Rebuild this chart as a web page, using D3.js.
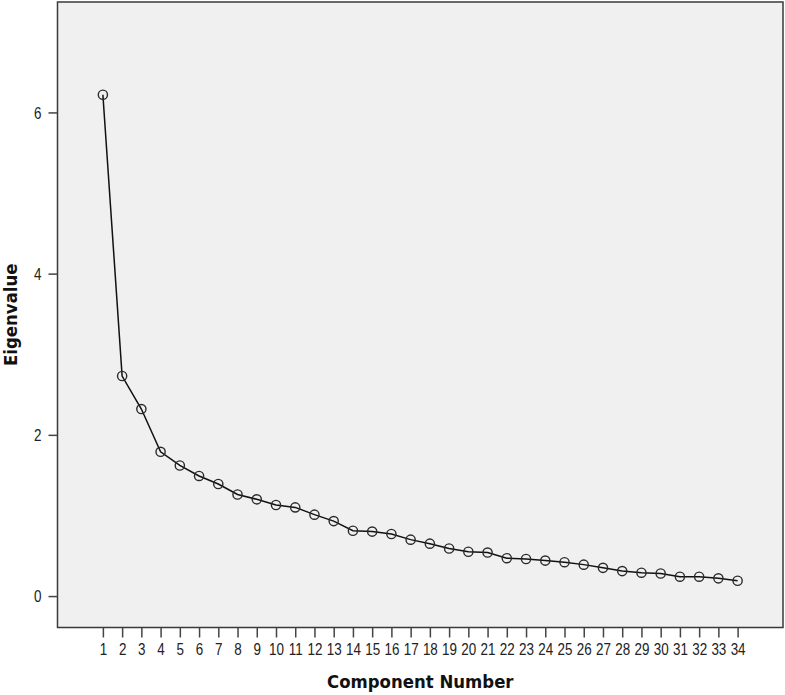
<!DOCTYPE html>
<html lang="en">
<head>
	<meta charset="utf-8">
	<title>Scree Plot</title>
	<script type="text/javascript" src="https://cdn.jsdelivr.net/npm/d3@7"></script>
	<style>
		body { margin: 0; background: white; }
		.tick text { font-family: "Liberation Sans", Arial, sans-serif; font-size: 16px; fill: #222; }
		.axis-title { font-family: "DejaVu Sans", Verdana, sans-serif; font-weight: bold; font-size: 18px; fill: #111; }
	</style>
</head>
<body>
<div id="chart"></div>
<script type="text/javascript">

// component numbers and their eigenvalues
var components = d3.range(1, 35)
var eigenvalues = [6.22, 2.73, 2.32, 1.79, 1.62, 1.49, 1.39, 1.26, 1.20, 1.13,
	1.10, 1.01, 0.93, 0.81, 0.80, 0.77, 0.70, 0.65, 0.59, 0.55,
	0.54, 0.47, 0.46, 0.44, 0.42, 0.39, 0.35, 0.31, 0.29, 0.28,
	0.24, 0.24, 0.22, 0.19]
var yTicks = [0, 2, 4, 6]

var width = 785, height = 695
var box = {left: 57.5, right: 783, top: 2, bottom: 627.5}
var narrow = 0.84  // labels in the original are a condensed face
var titleSquash = 0.92

var svg = d3.select("#chart").append("svg")
	.attr("width", width)
	.attr("height", height)

var x = d3.scaleLinear().domain([-1.36, 36.36]).range([box.left, box.right])
var y = d3.scaleLinear().domain([-0.39, 7.37]).range([box.bottom, box.top])

//plot area
svg.append("rect")
	.attr("x", box.left).attr("y", box.top)
	.attr("width", box.right - box.left)
	.attr("height", box.bottom - box.top)
	.style("fill", "#f0f0f0")
	.style("stroke", "#3a3a3a")
	.style("stroke-width", 1.5)

var xAxis = svg.append("g")
	.attr("transform", "translate(0," + box.bottom + ")")
	.call(d3.axisBottom(x).tickValues(components).tickSize(10).tickPadding(6).tickSizeOuter(0))
xAxis.select(".domain").remove()
xAxis.selectAll(".tick line").style("stroke", "#444").style("stroke-width", 1.5)
xAxis.selectAll(".tick text").attr("transform", "scale(" + narrow + ",1)")

var yAxis = svg.append("g")
	.attr("transform", "translate(" + box.left + ",0)")
	.call(d3.axisLeft(y).tickValues(yTicks).tickSize(9).tickPadding(7).tickSizeOuter(0))
yAxis.select(".domain").remove()
yAxis.selectAll(".tick line").style("stroke", "#444").style("stroke-width", 1.5)
yAxis.selectAll(".tick text")
	.attr("dy", "0.36em")
	.attr("x", -16 / narrow)
	.attr("transform", "scale(" + narrow + ",1)")

var pts = components.map(function(c, i) { return [c, eigenvalues[i]] })

svg.append("path")
	.datum(pts)
	.attr("d", d3.line().x(function(d) { return x(d[0]) }).y(function(d) { return y(d[1]) }))
	.style("fill", "none")
	.style("stroke", "#111")
	.style("stroke-width", 1.5)

svg.selectAll("circle.pt")
	.data(pts)
	.enter().append("circle")
	.attr("class", "pt")
	.attr("cx", function(d) { return x(d[0]) })
	.attr("cy", function(d) { return y(d[1]) })
	.attr("r", 4.6)
	.style("fill", "none")
	.style("stroke", "#2a2a2a")
	.style("stroke-width", 1.4)

svg.append("text")
	.attr("class", "axis-title")
	.attr("transform", "translate(" + (box.left + box.right) / 2 + ",688) scale(" + titleSquash + ",1)")
	.attr("text-anchor", "middle")
	.text("Component Number")

svg.append("text")
	.attr("class", "axis-title")
	.attr("transform", "translate(17," + (box.top + box.bottom) / 2 + ") rotate(-90) scale(" + titleSquash + ",1)")
	.attr("text-anchor", "middle")
	.text("Eigenvalue")

</script>
</body>
</html>
